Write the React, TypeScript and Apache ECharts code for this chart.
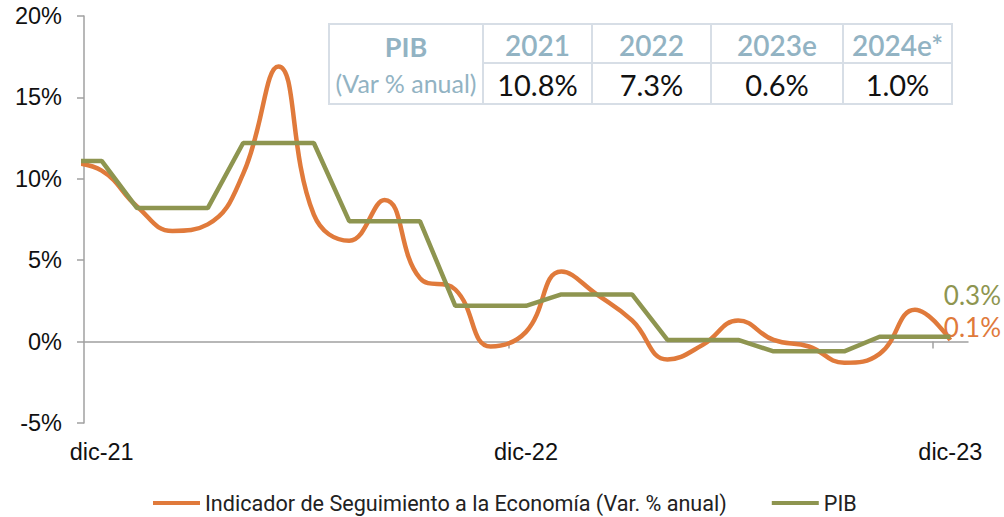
import React, { useEffect, useRef } from "react";
import * as echarts from "echarts";

const months = [
  "nov-21", "dic-21",
  "ene-22", "feb-22", "mar-22", "abr-22", "may-22", "jun-22", "jul-22", "ago-22", "sep-22", "oct-22", "nov-22", "dic-22",
  "ene-23", "feb-23", "mar-23", "abr-23", "may-23", "jun-23", "jul-23", "ago-23", "sep-23", "oct-23", "nov-23", "dic-23",
];
const iseValues = [
  11.0, 10.5,
  8.3, 6.8, 7.2, 10.3, 16.9, 7.8, 6.2, 8.7, 3.9, 3.2, -0.3, 0.6,
  4.3, 2.9, 1.3, -1.1, -0.2, 1.3, 0.1, -0.3, -1.3, -0.75, 1.95, 0.1,
];
const pibValues = [
  11.1, 11.1,
  8.2, 8.2, 8.2, 12.2, 12.2, 12.2, 7.4, 7.4, 7.4, 2.2, 2.2, 2.2,
  2.9, 2.9, 2.9, 0.1, 0.1, 0.1, -0.6, -0.6, -0.6, 0.3, 0.3, 0.3,
];
const xLabelIdx = [0, 12, 24];
const yTicks = [-5, 0, 5, 10, 15, 20];
const tableYears = ["2021", "2022", "2023e", "2024e*"];
const tableValues = ["10.8%", "7.3%", "0.6%", "1.0%"];
const endIse = "0.1%";
const endPib = "0.3%";
const seriesNames = ["Indicador de Seguimiento a la Economía (Var. % anual)", "PIB"];

const ORANGE = "#E07A3B";
const GREEN = "#8E9550";
const TBL_BORDER = "#D7DEE6";
const TBL_TEXT = "#92B3C3";

export default function App() {
  const ref = useRef<HTMLDivElement>(null);
  useEffect(() => {
    if (!ref.current) return;
    const chart = echarts.init(ref.current, null, { renderer: "svg" });
    const toData = (arr: number[]) => arr.map((v, i) => [i - 1, v]);

    const colX = [329, 483, 592, 711, 843, 952];
    const tTop = 24, tMid = 63, tBot = 104;
    const graphics: any[] = [];
    graphics.push({
      type: "rect",
      shape: { x: colX[0], y: tTop, width: colX[5] - colX[0], height: tBot - tTop },
      style: { fill: "#fff", stroke: TBL_BORDER, lineWidth: 2 },
    });
    for (let i = 1; i < 5; i++) {
      graphics.push({
        type: "line",
        shape: { x1: colX[i], y1: tTop, x2: colX[i], y2: tBot },
        style: { stroke: TBL_BORDER, lineWidth: 2 },
      });
    }
    graphics.push({
      type: "line",
      shape: { x1: colX[1], y1: tMid, x2: colX[5], y2: tMid },
      style: { stroke: TBL_BORDER, lineWidth: 2 },
    });
    graphics.push({
      type: "text",
      x: (colX[0] + colX[1]) / 2,
      y: 46,
      style: { text: "PIB", fill: TBL_TEXT, font: "bold 27px Lato", textAlign: "center", textVerticalAlign: "middle" },
    });
    graphics.push({
      type: "text",
      x: (colX[0] + colX[1]) / 2,
      y: 83,
      style: { text: "(Var % anual)", fill: TBL_TEXT, font: "25px Lato", textAlign: "center", textVerticalAlign: "middle" },
    });
    tableYears.forEach((t, i) => {
      graphics.push({
        type: "text",
        x: (colX[i + 1] + colX[i + 2]) / 2,
        y: 45,
        style: { text: t, fill: TBL_TEXT, font: "600 28px Lato", textAlign: "center", textVerticalAlign: "middle" },
      });
      graphics.push({
        type: "text",
        x: (colX[i + 1] + colX[i + 2]) / 2,
        y: 84,
        style: { text: tableValues[i], fill: "#111", font: "29px Lato", textAlign: "center", textVerticalAlign: "middle" },
      });
    });
    graphics.push({
      type: "text",
      x: 1001,
      y: 295,
      style: { text: endPib, fill: GREEN, font: "26px Lato", textAlign: "right", textVerticalAlign: "middle" },
    });
    graphics.push({
      type: "text",
      x: 1001,
      y: 327,
      style: { text: endIse, fill: ORANGE, font: "26px Lato", textAlign: "right", textVerticalAlign: "middle" },
    });

    chart.setOption({
      animation: false,
      backgroundColor: "#fff",
      grid: { left: 84, right: 36, top: 16, bottom: 94, containLabel: false },
      legend: {
        top: 487,
        left: 148,
        itemWidth: 47,
        itemHeight: 4,
        itemGap: 45,
        icon: "rect",
        textStyle: { fontSize: 21.6, fontFamily: "Roboto", color: "#222" },
        data: seriesNames,
      },
      xAxis: [
        {
          type: "value",
          min: -0.5,
          max: 24.5,
          position: "bottom",
          axisLine: { onZero: true, lineStyle: { color: "#A0A0A0", width: 1.5 } },
          axisTick: { show: true, length: 7, customValues: [11.5, 23.5], lineStyle: { color: "#A0A0A0", width: 1.5 } },
          axisLabel: { show: false },
          splitLine: { show: false },
        },
        {
          type: "value",
          min: -0.5,
          max: 24.5,
          position: "bottom",
          axisLine: { show: false, onZero: false },
          axisTick: { show: false },
          axisLabel: {
            show: true,
            customValues: xLabelIdx,
            margin: 17,
            fontSize: 23.5,
            fontFamily: "Liberation Sans",
            color: "#111",
            formatter: (v: number) => months[Math.round(v) + 1],
          },
          splitLine: { show: false },
        },
      ],
      yAxis: {
        type: "value",
        min: yTicks[0],
        max: yTicks[yTicks.length - 1],
        interval: 5,
        axisLine: { show: true, onZero: false, lineStyle: { color: "#A0A0A0", width: 1.5 } },
        axisTick: { show: true, length: 7, lineStyle: { color: "#A0A0A0", width: 1.5 } },
        axisLabel: {
          margin: 22,
          fontSize: 23.5,
          fontFamily: "Liberation Sans",
          color: "#111",
          formatter: (v: number) => `${v}%`,
        },
        splitLine: { show: false },
      },
      series: [
        {
          name: seriesNames[0],
          type: "line",
          xAxisIndex: 0,
          data: toData(iseValues),
          smooth: 0.45,
          symbol: "none",
          color: ORANGE,
          lineStyle: { color: ORANGE, width: 4.5 },
          clip: true,
          z: 2,
        },
        {
          name: seriesNames[1],
          type: "line",
          xAxisIndex: 0,
          data: toData(pibValues),
          symbol: "none",
          color: GREEN,
          lineStyle: { color: GREEN, width: 4.5 },
          clip: true,
          z: 3,
        },
      ],
      graphic: graphics,
    });
    return () => chart.dispose();
  }, []);
  return (
    <div
      ref={ref}
      style={{ position: "fixed", left: 0, top: 0, width: 1004, height: 517, background: "#fff" }}
    />
  );
}
